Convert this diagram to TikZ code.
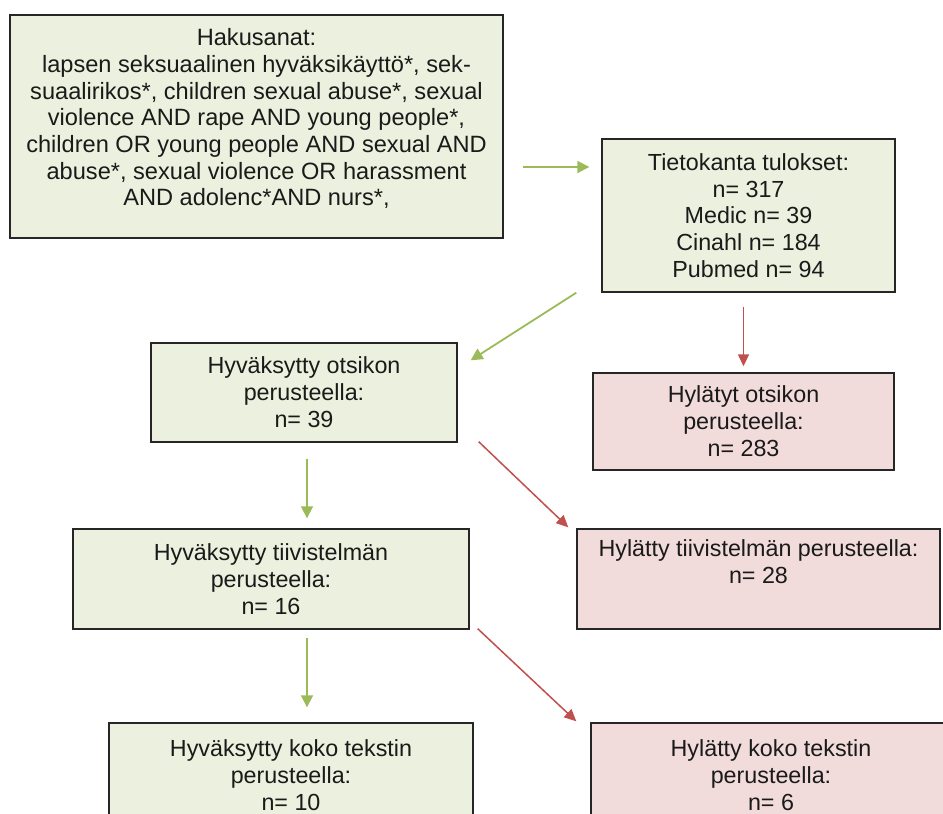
\documentclass[tikz,border=0pt]{standalone}
\usepackage{fontspec}
\setmainfont{Liberation Sans}
\usetikzlibrary{arrows.meta}

\definecolor{okfill}{HTML}{EBF1DE}
\definecolor{nofill}{HTML}{F2DCDB}
\definecolor{okline}{HTML}{9BBB59}
\definecolor{noline}{HTML}{C0504D}
\definecolor{boxline}{HTML}{262626}
\definecolor{boxtext}{HTML}{1A1A1A}

\tikzset{
    flowbox/.style={draw=boxline, line width=1.4pt, align=center, inner sep=0pt,
        text=boxtext, font=\fontsize{23.3}{27}\selectfont},
    okbox/.style={flowbox, fill=okfill},
    nobox/.style={flowbox, fill=nofill},
    okarrow/.style={draw=okline, line width=1.8pt, -{Triangle[length=12pt,width=12pt]}},
    noarrow/.style={draw=noline, line width=1.5pt, -{Triangle[length=12pt,width=11pt]}}
}

\begin{document}
\begin{tikzpicture}[x=1pt,y=-1pt]
        \path[use as bounding box, clip] (0,0) rectangle (943,814);
        \node[okbox, minimum width=493, minimum height=223,
              font=\fontsize{23.6}{26.7}\selectfont] (haku) at (256.5,126.5)
            {Hakusanat:\\lapsen seksuaalinen hyväksikäyttö*, sek-\\suaalirikos*, children sexual abuse*, sexual\\violence AND rape AND young people*,\\children OR young people AND sexual AND\\abuse*, sexual violence OR harassment\\AND adolenc*AND nurs*,\\[-8pt]\mbox{}};
        \node[okbox, minimum width=293, minimum height=153,
              font=\fontsize{23.3}{26.7}\selectfont] (tulos) at (748.5,215.5)
            {Tietokanta tulokset:\\n= 317\\Medic n= 39\\Cinahl n= 184\\Pubmed n= 94};
        \node[okbox, minimum width=306, minimum height=99] (otsok) at (304,392.5)
            {Hyväksytty otsikon\\perusteella:\\n= 39};
        \node[nobox, minimum width=301, minimum height=97] (otshyl) at (743.5,421.5)
            {Hylätyt otsikon\\perusteella:\\n= 283};
        \node[okbox, minimum width=396, minimum height=100] (tiivok) at (271,579)
            {Hyväksytty tiivistelmän\\perusteella:\\n= 16};
        \node[nobox, minimum width=363, minimum height=100] (tiivhyl) at (758.5,579)
            {Hylätty tiivistelmän perusteella:\\n= 28\\\strut};
        \node[okbox, minimum width=364, minimum height=104] (kokook) at (291,775)
            {Hyväksytty koko tekstin\\perusteella:\\n= 10};
        \node[nobox, minimum width=360, minimum height=104] (kokohyl) at (771,775)
            {Hylätty koko tekstin\\perusteella:\\n= 6};

        \draw[okarrow] ([shift={(19,40.5)}]haku.east) -- ([shift={(-12,-48.5)}]tulos.west);
        \draw[okarrow] ([shift={(-25,0)}]tulos.south west) -- ([shift={(13,18)}]otsok.north east);
        \draw[noarrow] ([yshift=-14pt]tulos.south -| otshyl.north) -- ([yshift=6pt]otshyl.north);
        \draw[okarrow] ([shift={(3,16)}]otsok.south) -- ([shift={(3,-10)}]otsok.south |- tiivok.north);
        \draw[noarrow] ([shift={(21,-1)}]otsok.south east) -- ([shift={(-8,-1)}]tiivhyl.north west);
        \draw[okarrow] ([shift={(36,8)}]tiivok.south) -- ([shift={(16,-15)}]kokook.north);
        \draw[noarrow] ([shift={(8,-1)}]tiivok.south east) -- ([shift={(-14,-1)}]kokohyl.north west);
    \end{tikzpicture}
\end{document}
